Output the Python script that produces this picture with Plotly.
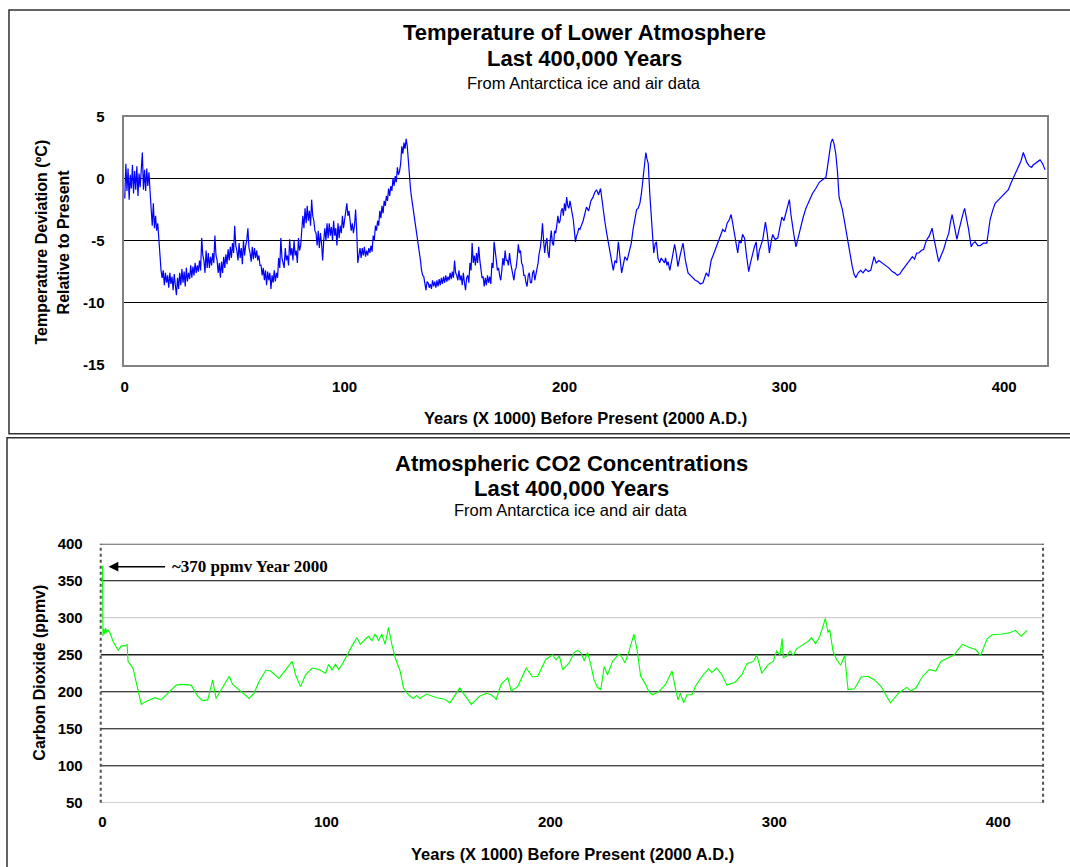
import plotly.graph_objects as go

W, H = 1070, 867

# ---------------- data ----------------
temp_age_fine = [
    0, 0.5, 1, 1.5, 2, 2.5, 3, 3.5, 4, 4.5, 5, 5.5, 6, 6.5, 7, 7.5, 8, 8.5, 9, 9.5,
    10, 10.5, 11, 11.5, 12, 12.5, 13, 13.5, 14, 14.5, 15, 15.5, 16, 16.5, 17, 17.5, 18, 18.5, 19, 19.5,
    20, 20.5, 21, 21.5, 22, 22.5, 23, 23.5, 24, 24.5, 25, 25.5, 26, 26.5, 27, 27.5, 28, 28.5, 29, 29.5,
    30, 30.5, 31, 31.5, 32, 32.5, 33, 33.5, 34, 34.5, 35, 35.5, 36, 36.5, 37, 37.5, 38, 38.5, 39, 39.5,
    40, 40.5, 41, 41.5, 42, 42.5, 43, 43.5, 44, 44.5, 45, 45.5, 46, 46.5, 47, 47.5, 48, 48.5, 49, 49.5,
    50, 50.5, 51, 51.5, 52, 52.5, 53, 53.5, 54, 54.5, 55, 55.5, 56, 56.5, 57, 57.5, 58, 58.5, 59, 59.5,
    60, 60.5, 61, 61.5, 62, 62.5, 63, 63.5, 64, 64.5, 65, 65.5, 66, 66.5, 67, 67.5, 68, 68.5, 69, 69.5,
    70, 70.5, 71, 71.5, 72, 72.5, 73, 73.5, 74, 74.5, 75, 75.5, 76, 76.5, 77, 77.5, 78, 78.5, 79, 79.5,
    80, 80.5, 81, 81.5, 82, 82.5, 83, 83.5, 84, 84.5, 85, 85.5, 86, 86.5, 87, 87.5, 88, 88.5, 89, 89.5,
    90, 90.5, 91, 91.5, 92, 92.5, 93, 93.5, 94, 94.5, 95, 95.5, 96, 96.5, 97, 97.5, 98, 98.5, 99, 99.5,
    100, 100.5, 101, 101.5, 102, 102.5, 103, 103.5, 104, 104.5, 105, 105.5, 106, 106.5, 107, 107.5, 108, 108.5, 109, 109.5,
    110, 110.5, 111, 111.5, 112, 112.5, 113, 113.5, 114, 114.5, 115, 115.5, 116, 116.5, 117, 117.5, 118, 118.5, 119, 119.5,
    120, 120.5, 121, 121.5, 122, 122.5, 123, 123.5, 124, 124.5, 125, 125.5, 126, 126.5, 127, 127.5, 128, 128.5, 129, 129.5,
    130, 130.5, 131, 131.5, 132, 132.5, 133, 133.5, 134, 134.5, 135, 135.5, 136, 136.5, 137, 137.5, 138, 138.5, 139, 139.5,
    140, 140.5, 141, 141.5, 142, 142.5, 143, 143.5, 144, 144.5, 145, 145.5, 146, 146.5, 147, 147.5, 148, 148.5, 149, 149.5,
    150, 150.5, 151, 151.5, 152, 152.5, 153, 153.5, 154, 154.5, 155, 155.5, 156, 156.5, 157, 157.5, 158, 158.5, 159, 159.5,
    160, 160.5, 161, 161.5, 162, 162.5, 163, 163.5, 164, 164.5, 165, 165.5, 166, 166.5, 167, 167.5, 168, 168.5, 169, 169.5,
    170, 170.5, 171, 171.5, 172, 172.5, 173, 173.5, 174, 174.5, 175, 175.5, 176, 176.5, 177, 177.5, 178, 178.5, 179, 179.5,
    180, 180.5, 181, 181.5, 182, 182.5, 183, 183.5, 184, 184.5, 185, 185.5, 186, 186.5, 187, 187.5, 188, 188.5, 189, 189.5,
    190, 190.5, 191, 191.5, 192, 192.5, 193, 193.5, 194, 194.5, 195, 195.5, 196, 196.5, 197, 197.5, 198, 198.5, 199, 199.5,
    200, 200.5, 201, 201.5, 202, 202.5, 203, 203.5, 204, 204.5, 205, 205.5, 206, 206.5,
]
temp_dev_fine = [
    -1.6, 1.2, -1.0, 0.8, -1.7, 0.3, -0.8, 1.1, -1.2, 0.6, -0.9, 1.0, -1.4, 0.4, -0.7, 0.9, 2.1, -0.9, 0.7, -1.0,
    0.8, -0.6, 0.5, -1.0, -2.2, -3.8, -2.0, -4.0, -3.0, -4.2, -3.6, -5.0, -6.2, -7.4, -8.0, -7.4, -8.6, -7.6, -8.4, -7.8,
    -8.8, -7.6, -8.5, -7.9, -9.0, -7.7, -8.6, -9.4, -8.0, -8.9, -7.6, -8.6, -7.3, -8.4, -7.5, -8.7, -7.2, -8.3, -7.6, -8.1,
    -7.0, -8.0, -7.1, -7.8, -6.8, -7.6, -7.0, -7.5, -6.6, -7.4, -4.8, -6.2, -6.6, -7.6, -5.8, -7.2, -6.0, -7.2, -6.3, -7.0,
    -6.0, -6.8, -4.6, -6.2, -6.6, -7.6, -6.8, -8.0, -6.7, -7.6, -6.3, -7.2, -6.1, -6.9, -5.7, -6.6, -5.5, -6.4, -5.2, -6.0,
    -3.8, -5.4, -5.8, -6.6, -5.2, -6.4, -5.6, -6.9, -5.0, -6.2, -5.4, -5.0, -4.0, -5.6, -6.0, -6.7, -5.5, -6.5, -5.6, -6.4,
    -5.8, -6.6, -6.2, -7.0, -7.0, -7.8, -7.2, -8.2, -7.4, -8.6, -7.5, -8.2, -7.6, -8.9, -7.8, -8.4, -7.4, -8.3, -7.6, -8.0,
    -6.4, -7.2, -4.8, -6.4, -6.8, -7.2, -5.6, -6.6, -6.2, -7.0, -4.9, -6.2, -5.6, -6.6, -5.0, -6.2, -5.8, -6.8, -4.8, -5.8,
    -5.4, -4.2, -3.0, -4.0, -2.4, -3.6, -2.2, -3.4, -2.6, -3.8, -1.7, -3.0, -3.4, -4.2, -4.4, -5.4, -4.2, -5.6, -4.4, -5.2,
    -6.6, -5.0, -4.0, -5.0, -3.6, -4.8, -3.6, -4.6, -3.9, -5.0, -3.4, -4.6, -4.0, -5.4, -3.6, -4.8, -3.8, -4.4, -3.0, -4.0,
    -3.4, -2.6, -2.0, -3.0, -2.6, -3.4, -4.2, -3.6, -4.4, -3.8, -2.5, -4.2, -6.8, -6.2, -5.6, -6.4, -5.6, -6.2, -5.5, -6.3,
    -5.8, -6.2, -5.6, -6.0, -5.4, -5.9, -4.6, -5.0, -3.8, -4.2, -3.4, -3.8, -2.6, -3.2, -2.2, -2.8, -1.8, -2.2, -1.4, -1.8,
    -0.8, -1.4, -0.6, -1.0, 0.0, -0.6, 0.2, -0.3, 0.9, 0.3, 0.6, 1.2, 2.6, 2.0, 2.9, 2.4, 3.2, 2.6, 1.2, 0.4,
    -0.9, -1.6, -2.2, -2.8, -3.2, -3.9, -4.6, -5.2, -5.8, -6.6, -7.4, -7.8, -7.9, -8.4, -9.0, -8.3, -8.4, -8.8, -8.5, -8.9,
    -8.2, -8.7, -8.3, -8.8, -8.2, -8.7, -8.1, -8.6, -8.0, -8.5, -7.9, -8.4, -7.8, -8.3, -7.9, -8.2, -7.6, -8.1, -7.5, -8.0,
    -6.6, -7.6, -7.8, -8.2, -7.4, -8.2, -7.8, -8.6, -7.6, -8.4, -9.0, -8.0, -7.8, -8.4, -6.8, -7.4, -5.2, -6.8, -6.2, -7.0,
    -6.0, -6.8, -5.5, -6.6, -7.2, -8.0, -7.9, -8.7, -8.0, -8.6, -7.8, -8.4, -7.9, -8.5, -6.8, -7.2, -5.1, -6.2, -6.6, -7.4,
    -7.2, -7.8, -8.2, -7.4, -6.4, -7.0, -5.8, -6.6, -6.6, -7.0, -6.0, -6.8, -7.2, -7.8, -8.2, -7.4, -7.2, -6.4, -5.3, -6.0,
    -5.8, -6.8, -7.0, -7.8, -7.8, -8.4, -8.7, -7.8, -7.6, -8.4, -8.4, -7.6, -7.4, -8.2, -7.8, -7.2, -6.8, -6.0, -5.6, -4.8,
    -3.6, -5.0, -6.0, -5.2, -4.8, -6.0, -6.4, -5.0, -4.2, -5.2, -5.4, -4.2, -4.4, -3.8, -3.0, -3.6, -3.4, -2.6, -2.4, -3.0,
    -2.0, -2.6, -1.5, -2.2, -2.4, -1.8, -2.2, -2.8, -3.3, -4.2, -5.1, -4.6, -4.4, -4.0,
]
temp_age_old = [
    207, 208.5, 210, 211, 212, 213, 213.8, 214.6, 215.5, 216.4, 217, 217.6, 218.4, 219.2, 220,
    220.7, 221.5, 222.2, 223, 223.7, 224.5, 225.2, 226, 226.8, 227.5, 228.5, 229.7, 230.4, 231.2, 232,
    232.8, 233.5, 234.3, 235, 235.8, 236.4, 237, 237.5, 238.1, 238.8, 239.5, 240, 240.6, 241.2, 241.8,
    242.5, 243.3, 244, 244.8, 245.5, 246, 246.6, 247.1, 247.9, 249, 250.1, 250.8, 251.6, 252.6, 253.2,
    253.9, 255, 256.2, 257.3, 258.4, 259.5, 260.7, 261.8, 263, 263.7, 264.5, 265.5, 266.7, 267.8, 269,
    270.5, 272, 273, 274, 275, 275.8, 276.5, 277.3, 278, 278.8, 279.5, 280.3, 281, 281.9, 282.8,
    283.8, 284.6, 285.6, 286.4, 287.2, 287.9, 288.6, 289.4, 290.2, 290.8, 291.4, 292.2, 293.2, 294, 294.7,
    295.8, 297, 298, 298.9, 299.8, 300.7, 301.5, 302.3, 303, 303.5, 304.4, 305.3, 306.4, 307.5, 308.6,
    309.8, 311.3, 312.8, 314.3, 315.9, 317.4, 318.9, 319.6, 320.4, 321.2, 321.9, 322.6, 323.4, 324.2, 324.9,
    325.6, 326.4, 327.5, 328.7, 329.8, 330.9, 331.7, 332.5, 333.6, 334.7, 335.8, 337, 338.2, 339.3, 340.8,
    341.8, 343, 344.5, 346, 347.5, 349.1, 350.2, 351.4, 352.5, 353.6, 355.1, 356.6, 358.2, 359.2, 360.2,
    361.2, 362.3, 363.4, 364.2, 364.9, 366, 367.2, 368, 368.7, 369.5, 370.2, 371.3, 372.5, 373.6, 374.8,
    375.5, 376.3, 377.4, 378.5, 379.5, 380.5, 381.3, 382, 382.9, 383.8, 385, 385.9, 386.8, 388, 389.1,
    390.6, 392.1, 392.8, 393.6, 394.7, 395.9, 397, 398.2, 399.3, 400.4, 401.9, 403, 404.2, 405.3, 406.5,
    407.6, 408.7, 409.5, 410.3, 411.4, 412.5, 413.2, 414, 415.2, 416.3, 417.5, 418.6,
]
temp_dev_old = [
    -4.1, -3.4, -2.3, -2.6, -1.8, -1.5, -1.1, -0.9, -1.3, -0.8, -1.6, -2.8, -3.5, -4.4, -5.2,
    -6.0, -7.0, -7.4, -6.6, -6.8, -5.1, -6.2, -7.6, -6.9, -6.3, -6.6, -5.7, -5.2, -4.1, -3.4,
    -2.5, -2.4, -2.0, -1.2, 0.1, 1.0, 2.1, 1.6, 1.2, -1.2, -3.3, -4.8, -6.0, -5.3, -5.1,
    -6.4, -6.8, -6.4, -6.6, -6.8, -6.4, -7.0, -6.7, -7.4, -6.4, -5.3, -6.0, -7.1, -6.2, -5.6,
    -5.2, -6.6, -7.6, -7.8, -8.0, -8.2, -8.3, -8.5, -8.4, -8.1, -7.6, -7.9, -6.6, -6.1, -5.5,
    -4.8, -4.1, -4.3, -3.6, -3.3, -2.9, -3.6, -4.4, -5.2, -6.0, -5.0, -5.2, -4.5, -4.8, -6.2,
    -7.5, -6.8, -6.0, -5.5, -5.1, -6.6, -5.8, -5.4, -4.9, -4.2, -3.5, -4.4, -6.0, -5.1, -4.5,
    -4.9, -4.8, -3.9, -3.1, -3.4, -2.8, -2.4, -1.7, -2.9, -3.6, -4.6, -5.5, -4.6, -3.9, -3.1,
    -2.4, -1.8, -1.2, -0.8, -0.3, -0.1, 0.1, 0.9, 2.0, 2.9, 3.2, 2.8, 2.0, 0.5, -1.5,
    -2.0, -2.5, -3.6, -4.9, -6.0, -7.1, -7.7, -8.0, -7.6, -7.4, -7.6, -7.3, -7.5, -7.4, -6.3,
    -6.8, -6.6, -6.8, -7.0, -7.2, -7.5, -7.6, -7.8, -7.7, -7.4, -7.0, -6.7, -6.3, -6.5, -6.0,
    -6.0, -5.8, -5.7, -5.2, -4.9, -4.6, -4.0, -4.8, -5.5, -6.2, -6.7, -6.2, -5.7, -5.0, -4.4,
    -3.6, -2.9, -3.9, -4.9, -4.1, -3.3, -2.8, -2.4, -3.2, -4.1, -5.5, -5.2, -5.1, -5.4, -5.4,
    -5.2, -5.2, -4.2, -3.3, -2.6, -2.0, -1.8, -1.6, -1.4, -1.2, -0.9, -0.4, 0.1, 0.5, 1.0,
    1.4, 2.1, 1.7, 1.3, 1.0, 0.9, 1.1, 1.2, 1.4, 1.5, 1.2, 0.7,
]

co2_age = [
    0, 0.2, 0.6, 1.0, 1.4, 1.8, 2.3, 3.3, 4.7, 7, 8.4, 10, 11, 11.4, 13.6, 17.3, 19.5, 23.3, 26.2, 29.2,
    32.9, 35.1, 39.6, 42.5, 44.7, 47, 49.2, 50.7, 53.6, 56.6, 58.1, 62.5, 65.5, 67.7, 69.9, 72.9, 75.1, 78.8, 81.8, 84.7,
    86.2, 88.4, 90.7, 93.6, 96.6, 99.6, 101, 102.5, 104, 105.5, 107, 109.2, 111.4, 113.6, 115.1, 117.3, 118.8, 120.3, 121.8, 123.3,
    124.7, 126.2, 127.7, 129.2, 130.7, 132.9, 134.4, 136.6, 138.8, 140.3, 141.7, 144.7, 149.2, 152.9, 155.1, 159.5, 161.7, 164.7, 168.4, 171.4,
    173.6, 175.8, 178, 181, 182.5, 185.4, 189.2, 192.1, 194.3, 198, 201, 202.5, 204, 205.5, 208.4, 210.6, 212.1, 213.6, 215.1, 216.6,
    218, 219.5, 221, 222.5, 224, 225.5, 227.7, 230.6, 232.1, 233.3, 235.1, 237.3, 238.8, 240.3, 242.5, 244, 245.5, 248.4, 251.4, 254.3,
    255.8, 257, 258, 259.5, 261, 263.2, 264.7, 267.7, 270.6, 272.1, 274.3, 276.6, 278.8, 282.5, 285.5, 287.7, 290.7, 292.1, 294.4, 297.3,
    299.5, 301, 302.5, 303.5, 304, 305.5, 307, 308.4, 309.9, 312.9, 315.1, 316.6, 318.4, 320.3, 321.8, 322.8, 324, 324.7, 326.2, 327.7,
    329.6, 331.4, 332.9, 334.4, 335.8, 338.8, 341.8, 344.7, 347.7, 351.8, 355.8, 359.2, 361, 363.2, 366.2, 369.2, 372.1, 374.4, 377.3, 380.3,
    384, 386.9, 389.9, 392.1, 395.1, 397.3, 401.8, 405.5, 407.7, 410.2, 412.8,
]
co2_ppmv = [
    370, 275, 285, 278, 286, 280, 284, 280, 268, 256, 262, 262, 264, 241, 232, 183, 187, 192, 189, 198,
    209, 210, 209, 194, 188, 189, 216, 191, 205, 221, 210, 198, 191, 198, 214, 229, 228, 218, 230, 241,
    223, 207, 223, 232, 230, 225, 237, 229, 237, 230, 237, 250, 262, 273, 264, 271, 275, 269, 278, 269,
    278, 264, 287, 264, 246, 228, 205, 196, 191, 195, 191, 197, 192, 190, 185, 205, 196, 183, 194, 198,
    196, 190, 210, 219, 201, 207, 232, 220, 221, 244, 250, 243, 248, 230, 239, 253, 256, 253, 242, 253,
    237, 216, 206, 203, 234, 223, 241, 251, 246, 239, 255, 278, 255, 221, 210, 200, 196, 200, 210, 228,
    205, 189, 198, 185, 196, 196, 207, 221, 231, 226, 232, 223, 209, 213, 223, 238, 241, 250, 225, 237,
    241, 255, 250, 272, 246, 248, 255, 249, 258, 264, 268, 273, 265, 275, 289, 299, 280, 284, 255, 244,
    236, 249, 203, 204, 204, 220, 221, 216, 207, 185, 199, 206, 201, 205, 221, 230, 228, 241, 246, 250,
    264, 260, 257, 249, 272, 277, 278, 280, 283, 275, 283,
]

x_ticks = [0, 100, 200, 300, 400]
temp_ticks = [5, 0, -5, -10, -15]
co2_ticks = [400, 350, 300, 250, 200, 150, 100, 50]

title_top = ["Temperature of Lower Atmosphere", "Last 400,000 Years", "From Antarctica ice and air data"]
title_bot = ["Atmospheric CO2 Concentrations", "Last 400,000 Years", "From Antarctica ice and air data"]
x_title = "Years (X 1000) Before Present (2000 A.D.)"
y_title_top = ["Temperature Deviation (ºC)", "Relative to Present"]
y_title_bot = "Carbon Dioxide (ppmv)"
note_text = "~370 ppmv Year 2000"

# ---------------- layout helpers ----------------
# The photographed page maps page-y to picture-y as roughly 8.5 + 0.98*y;
# positions below are given in picture pixels and converted back.
SY0, SYS = 8.5, 0.98


def px(x):
    return (x - 1) / W


def py(y):
    page_y = (y - SY0) / SYS
    return 1 - page_y / H


SANS = "Liberation Sans, Arial, sans-serif"
SERIF = "Liberation Serif, Times New Roman, serif"

fig = go.Figure()
fig.add_trace(go.Scatter(x=temp_age_fine + temp_age_old, y=temp_dev_fine + temp_dev_old,
                         mode="lines", line=dict(color="#0000FF", width=1.2),
                         xaxis="x", yaxis="y", showlegend=False, hoverinfo="skip"))
fig.add_trace(go.Scatter(x=co2_age, y=co2_ppmv, mode="lines",
                         line=dict(color="#00FF00", width=1.1),
                         xaxis="x2", yaxis="y2", showlegend=False, hoverinfo="skip"))

tickfont = dict(family=SANS, size=15, color="black", weight="bold")

fig.update_layout(
    width=W, height=H,
    margin=dict(l=0, r=0, t=0, b=0),
    paper_bgcolor="white", plot_bgcolor="white",
    xaxis=dict(domain=[px(122), px(1048)], range=[-0.5, 419.5], anchor="y",
               tickvals=x_ticks, ticktext=[str(v) for v in x_ticks],
               showgrid=False, zeroline=False, showline=True, mirror=True,
               linecolor="#808080", linewidth=2, ticks="outside", ticklen=0,
               ticklabelstandoff=7, tickfont=tickfont, fixedrange=True),
    yaxis=dict(domain=[py(364), py(116)], range=[-15, 5], anchor="x",
               tickvals=temp_ticks, ticktext=[str(v) for v in temp_ticks],
               showgrid=True, gridcolor="black", gridwidth=1,
               zeroline=False, showline=True, mirror=True,
               linecolor="#808080", linewidth=2, ticks="outside", ticklen=0,
               ticklabelstandoff=14, tickfont=tickfont, fixedrange=True),
    xaxis2=dict(domain=[px(99), px(1044)], range=[-0.8, 420], anchor="y2",
                tickvals=x_ticks, ticktext=[str(v) for v in x_ticks],
                showgrid=False, zeroline=False, showline=False,
                ticks="outside", ticklen=0,
                ticklabelstandoff=5, tickfont=tickfont, fixedrange=True),
    yaxis2=dict(domain=[py(802), py(543)], range=[50, 400], anchor="x2",
                tickvals=co2_ticks, ticktext=[str(v) for v in co2_ticks],
                showgrid=False, zeroline=False, showline=False,
                ticks="outside", ticklen=0,
                ticklabelstandoff=14, tickfont=tickfont, fixedrange=True),
)

shapes = []
# panel borders
shapes.append(dict(type="rect", xref="paper", yref="paper",
                   x0=px(7), x1=px(1080), y0=py(433), y1=1 - 1.0 / H,
                   line=dict(color="#303030", width=1.5), layer="above"))
shapes.append(dict(type="rect", xref="paper", yref="paper",
                   x0=px(5), x1=px(1080), y0=-0.02, y1=py(437),
                   line=dict(color="#303030", width=1.5), layer="above"))

# CO2 panel grid lines and frame
grid_style = {400: ("#606060", 2), 300: ("#C0C0C0", 1),
              50: ("#C0C0C0", 1.5), 250: ("#202020", 1.5)}
for v in co2_ticks:
    col, wdt = grid_style.get(v, ("black", 1))
    shapes.append(dict(type="line", xref="x2 domain", yref="y2",
                       x0=0, x1=1, y0=v, y1=v,
                       line=dict(color=col, width=wdt), layer="below"))
for xd in (0, 1):
    shapes.append(dict(type="line", xref="x2 domain", yref="y2 domain",
                       x0=xd, x1=xd, y0=0, y1=1,
                       line=dict(color="#505050", width=2, dash="dot"), layer="above"))
fig.update_layout(shapes=shapes)

ann = []


def title_block(lines, cx, ys, sizes):
    for t, yy, s, b in zip(lines, ys, sizes, (True, True, False)):
        ann.append(dict(xref="paper", yref="paper", x=px(cx), y=py(yy),
                        xanchor="center", yanchor="middle", showarrow=False,
                        text=(f"<b>{t}</b>" if b else t),
                        font=dict(family=SANS, size=s, color="black")))


title_block(title_top, 584, [32, 58, 82], [22, 22, 16.5])
title_block(title_bot, 571, [463, 488, 509], [22, 22, 16.5])

for cx, cy in ((585, 417), (572, 853)):
    ann.append(dict(xref="paper", yref="paper", x=px(cx), y=py(cy),
                    xanchor="center", yanchor="middle", showarrow=False,
                    text=f"<b>{x_title}</b>",
                    font=dict(family=SANS, size=16.5, color="black")))

for t, cx in zip(y_title_top, (40, 62)):
    ann.append(dict(xref="paper", yref="paper", x=px(cx), y=py(241),
                    xanchor="center", yanchor="middle", showarrow=False,
                    textangle=-90, text=f"<b>{t}</b>",
                    font=dict(family=SANS, size=16, color="black")))
ann.append(dict(xref="paper", yref="paper", x=px(38), y=py(672),
                xanchor="center", yanchor="middle", showarrow=False,
                textangle=-90, text=f"<b>{y_title_bot}</b>",
                font=dict(family=SANS, size=16, color="black")))

# arrow pointing to the ~370 ppmv point
ann.append(dict(xref="x2", yref="y2", x=2.7, y=369, text="", showarrow=True,
                ax=58, ay=0, axref="pixel", ayref="pixel",
                arrowhead=2, arrowsize=1.3, arrowwidth=1.5, arrowcolor="black"))
ann.append(dict(xref="paper", yref="paper", x=px(168), y=py(566),
                xanchor="left", yanchor="middle", showarrow=False,
                text=f"<b>{note_text}</b>",
                font=dict(family=SERIF, size=17, color="black")))
fig.update_layout(annotations=ann)

fig.write_html("out.html", config={"displayModeBar": False},
               post_script="document.body.style.margin='0px';")
